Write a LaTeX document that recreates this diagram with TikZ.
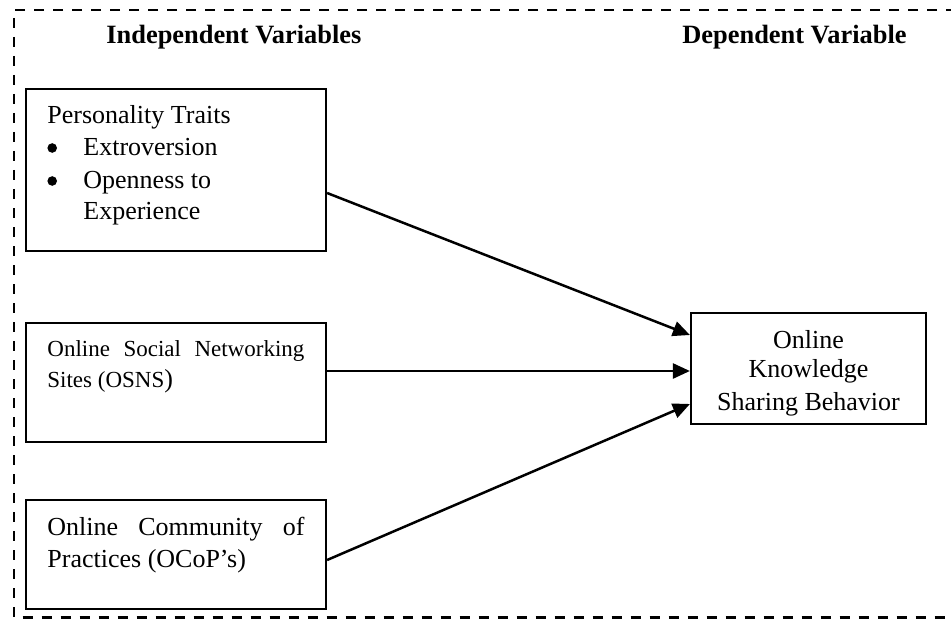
\documentclass[tikz,border=0pt]{standalone}
\usepackage{fontspec}
\setmainfont{Liberation Serif}
\usetikzlibrary{arrows.meta}
\newcommand{\bigbul}{\makebox[18pt][l]{\raisebox{1.6pt}{\tikz\fill (0,0) circle (2.4pt);}}}
\begin{document}
\begin{tikzpicture}[x=0.5pt,y=-0.5pt,
  box/.style={draw, line width=1.1pt, inner sep=0pt},
  txt/.style={inner sep=0pt, anchor=base west, font=\fontsize{13}{15.5}\selectfont},
  ctxt/.style={inner sep=0pt, anchor=base, font=\fontsize{13}{15.5}\selectfont},
  head/.style={inner sep=0pt, anchor=base west, font=\fontsize{13.2}{15.5}\selectfont\bfseries},
  smalltxt/.style={inner sep=0pt, anchor=base west, font=\fontsize{11.5}{14}\selectfont},
  arr/.style={line width=1.25pt, -{Triangle[length=8.5pt,width=7.5pt]}},
  frame/.style={line width=1.1pt, dash pattern=on 5pt off 4.5pt}]
\useasboundingbox (0,0) rectangle (951,620);
% dashed frame (open on the right)
\coordinate (ftr) at (975,10);
\coordinate (ftl) at (14,10);
\coordinate (fbl) at (14,617.5);
\coordinate (fbr) at (975,617.5);
\draw[frame] (ftr) -- (ftl) -- (fbl) -- (fbr);
% headers
\node[head] (h1) at (106,44) {Independent Variables};
\node[head] (h2) at (682,44) {Dependent Variable};
% boxes
\node[box, minimum width=150pt, minimum height=81pt] (b1) at (176,170) {};
\node[box, minimum width=150pt, minimum height=59.5pt] (b2) at (176,382.5) {};
\node[box, minimum width=150pt, minimum height=54.5pt] (b3) at (176,554.5) {};
\node[box, minimum width=117.5pt, minimum height=55.5pt] (b4) at (808.5,368.5) {};
% box 1 text
\node[txt] (t1a) at (47,124) {Personality Traits};
\node[txt] (t1b) at (47,156) {\bigbul Extroversion};
\node[txt] (t1c) at (47,189) {\bigbul Openness to};
\node[txt] (t1d) at (83,220) {Experience};
% box 2 text
\node[smalltxt] (t2a) at (47,356) {\makebox[128.5pt][s]{Online Social Networking}};
\node[smalltxt] (t2b) at (47,387) {Sites (OSNS{\fontsize{13}{15.5}\selectfont)}};
% box 3 text
\node[txt] (t3a) at (47,535) {\makebox[128.5pt][s]{Online Community of}};
\node[txt] (t3b) at (47,567) {Practices (OCoP’s)};
% box 4 text
\node[ctxt] (t4a) at (808.5,348) {Online};
\node[ctxt] (t4b) at (808.5,377) {Knowledge};
\node[ctxt] (t4c) at (808.5,410) {Sharing Behavior};
% arrows
\draw[arr] ([yshift=-11.5pt]b1.east) -- ([yshift=16.75pt]b4.west);
\draw[arr] ([yshift=5.75pt]b2.east) -- ([yshift=-1.25pt]b4.west);
\draw[arr] ([yshift=-2.75pt]b3.east) -- ([yshift=-17.75pt]b4.west);
\end{tikzpicture}
\end{document}
